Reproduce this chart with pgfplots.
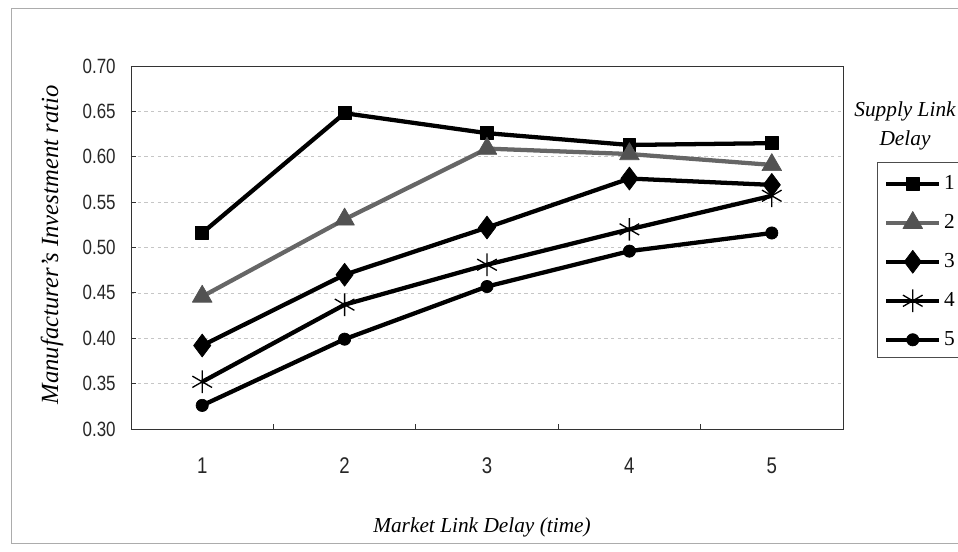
\documentclass[border=0pt]{standalone}
\usepackage{pgfplots}
\pgfplotsset{compat=1.18}
\usepackage{fontspec}
\setmainfont{Liberation Serif}
\newfontfamily\tickfont{Liberation Sans}[FakeStretch=0.82]

\begin{document}
\begin{tikzpicture}
% fixed page size; anything beyond it is cut off
\path[use as bounding box, clip] (0pt,0pt) rectangle (718.5pt,-413.25pt);
% page frame, in pixel-like units (y downwards)
\begin{scope}[x=0.75pt,y=-0.75pt]
  \draw[gray!65, line width=0.6pt] (11,8) rectangle (990,543);
\end{scope}
\begin{axis}[
  at={(98.25pt,-321.75pt)}, anchor=south west,
  scale only axis, width=534pt, height=272.25pt,
  xmin=0.5, xmax=5.5, ymin=0.30, ymax=0.70,
  xtick={1,2,3,4,5}, xticklabels={1,2,3,4,5},
  minor xtick={1.5,2.5,3.5,4.5},
  ytick={0.30,0.35,0.40,0.45,0.50,0.55,0.60,0.65,0.70},
  xtick pos=bottom, ytick pos=left,
  tick align=inside,
  major tick length=4pt, minor tick length=4pt,
  every major x tick/.append style={draw=none},
  tick style={black!80, line width=0.6pt},
  ymajorgrids,
  major grid style={gray!45, dash pattern=on 2.5pt off 2.5pt, line width=0.5pt},
  axis line style={black!80, line width=0.6pt},
  xticklabel style={font=\fontsize{17}{18}\tickfont, text=black!85, yshift=-18pt},
  yticklabel style={font=\fontsize{15.5}{16}\tickfont, text=black!85, xshift=-8pt,
    /pgf/number format/.cd, fixed, fixed zerofill, precision=2, assume math mode=true},
  xlabel={Market Link Delay (time)},
  xlabel style={font=\fontsize{16}{18}\itshape, at={(axis description cs:0.493,-0.272)}, anchor=center},
  ylabel={Manufacturer's Investment ratio},
  ylabel style={font=\fontsize{18.5}{20}\itshape, at={(axis description cs:-0.111,0.507)}, anchor=center},
  legend style={at={(axis description cs:1.0478,0.7355)}, anchor=north west,
    draw=none, fill=none, font=\fontsize{16}{18}\selectfont,
    row sep=0pt, inner xsep=5pt, inner ysep=1.5pt,
    nodes={minimum height=29.25pt, inner ysep=0pt, inner xsep=2pt}},
  legend cell align=left,
  legend image code/.code={%
    \draw[mark repeat=2,mark phase=2,#1] plot coordinates {(0pt,0pt) (20pt,0pt) (40pt,0pt)};},
  every axis plot/.append style={line width=3.2pt, line join=round},
]
\addplot[black, mark=square*, mark size=4.8pt, mark options={line width=0.5pt}]
  coordinates {(1,0.516) (2,0.648) (3,0.626) (4,0.613) (5,0.615)};
\addplot[black!60, mark=triangle*, mark size=8.5pt, mark options={line width=0.5pt, black!68}]
  coordinates {(1,0.446) (2,0.531) (3,0.609) (4,0.603) (5,0.591)};
\addplot[black, mark=diamond*, mark size=8.6pt, mark options={line width=0.5pt}]
  coordinates {(1,0.392) (2,0.470) (3,0.522) (4,0.576) (5,0.569)};
\addplot[black, mark=asterisk, mark size=8.5pt, mark options={line width=1pt}]
  coordinates {(1,0.352) (2,0.437) (3,0.481) (4,0.520) (5,0.557)};
\addplot[black, mark=*, mark size=4.6pt, mark options={line width=0.5pt}]
  coordinates {(1,0.326) (2,0.399) (3,0.457) (4,0.496) (5,0.516)};
\legend{1,2,3,4,5}
\end{axis}
% legend heading and frame
\begin{scope}[x=0.75pt,y=-0.75pt]
  \node[font=\fontsize{16}{18}\itshape] at (905,111) {Supply Link};
  \node[font=\fontsize{16}{18}\itshape] at (905,140) {Delay};
  \draw[black!70, line width=0.6pt] (877,162) rectangle (990,357);
\end{scope}
\end{tikzpicture}
\end{document}
